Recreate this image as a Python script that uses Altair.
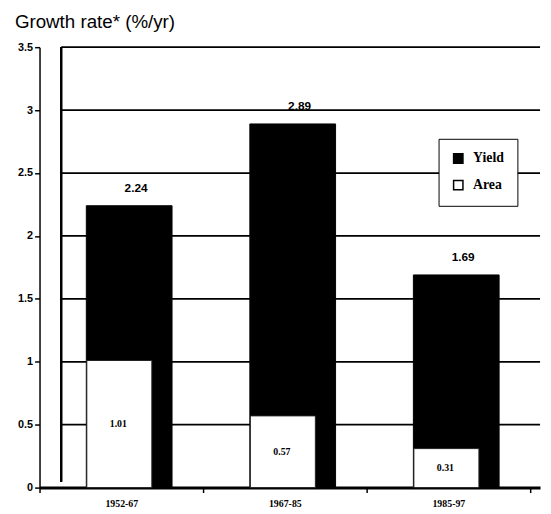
import altair as alt
import pandas as pd

periods = ["1952-67", "1967-85", "1985-97"]
yield_total = [2.24, 2.89, 1.69]
area_part = [1.01, 0.57, 0.31]
grid_values = [0.5, 1.0, 1.5, 2.0, 2.5, 3.0, 3.5]

df = pd.DataFrame({
    "period": periods * 2,
    "series": ["Yield"] * 3 + ["Area"] * 3,
    "value": yield_total + area_part,
})
df["label"] = df["value"].map(lambda v: f"{v:.2f}")
df["mid"] = df["value"] / 2

grid_df = pd.DataFrame({"g": grid_values})

W, H = 508, 447

xscale = alt.Scale(domain=periods, paddingInner=0, paddingOuter=0.0303, align=0)
yscale = alt.Scale(domain=[0, 3.5], nice=False)
yaxis = alt.Axis(title=None, values=[0, 0.5, 1, 1.5, 2, 2.5, 3, 3.5], format="~g",
                 labelFont="Liberation Sans", labelFontWeight="bold",
                 labelFontSize=11, labelColor="black", labelPadding=2,
                 domainColor="black", domainWidth=1.5, tickColor="black",
                 tickWidth=1.5, tickSize=5, grid=False)
xaxis = alt.Axis(title=None, labelAngle=0, tickBand="extent",
                 labelFont="Liberation Serif", labelFontWeight="bold",
                 labelFontSize=10, labelColor="black", labelPadding=6,
                 domainColor="black", domainWidth=3, tickColor="black",
                 tickWidth=1.5, tickSize=5)
color = alt.Color(
    "series:N",
    scale=alt.Scale(domain=["Yield", "Area"], range=["#000000", "#ffffff"]),
    legend=alt.Legend(
        title=None, orient="none", legendX=405, legendY=93,
        symbolType="square", symbolSize=90, symbolStrokeColor="black",
        symbolStrokeWidth=1.5, labelFont="Liberation Serif", labelFontWeight="bold",
        labelFontSize=14, labelColor="black", rowPadding=11, padding=13,
        strokeColor="black", fillColor="white", labelOffset=8,
    ),
)

base = alt.Chart(df)

grid = alt.Chart(grid_df).mark_rule(color="black", strokeWidth=1.8).encode(
    y=alt.Y("g:Q", scale=yscale, axis=yaxis),
    x=alt.value(22), x2=alt.value(W),
)

backwall = alt.Chart(grid_df).mark_rule(color="black", strokeWidth=1.8).encode(
    x=alt.value(22), y=alt.value(0), y2=alt.value(H - 6),
)

yield_bars = base.transform_filter(alt.datum.series == "Yield").mark_bar(
    size=87, xOffset=8, stroke="black"
).encode(
    x=alt.X("period:N", scale=xscale, sort=periods, axis=xaxis),
    y=alt.Y("value:Q", scale=yscale, axis=yaxis),
    color=color,
)

area_bars = base.transform_filter(alt.datum.series == "Area").mark_bar(
    size=66, xOffset=-2, stroke="#222", strokeWidth=1
).encode(
    x=alt.X("period:N", scale=xscale, sort=periods, axis=xaxis),
    y=alt.Y("value:Q", scale=yscale, axis=yaxis),
    color=color,
)

total_text = base.transform_filter(alt.datum.series == "Yield").mark_text(
    dx=15, dy=-11, baseline="bottom", font="Liberation Sans", fontWeight="bold",
    fontSize=12, color="black"
).encode(
    x=alt.X("period:N", scale=xscale, sort=periods, axis=xaxis),
    y=alt.Y("value:Q", scale=yscale, axis=yaxis),
    text="label:N",
)

area_text = base.transform_filter(alt.datum.series == "Area").mark_text(
    dx=-3, baseline="middle", font="Liberation Serif", fontWeight="bold",
    fontSize=10, color="black"
).encode(
    x=alt.X("period:N", scale=xscale, sort=periods, axis=xaxis),
    y=alt.Y("mid:Q", scale=yscale, axis=yaxis),
    text="label:N",
)

title_text = alt.Chart(pd.DataFrame({"t": ["Growth rate* (%/yr)"]})).mark_text(
    align="left", baseline="alphabetic", font="Liberation Sans", fontSize=19,
    color="black"
).encode(x=alt.value(-25), y=alt.value(-19), text="t:N")

chart = alt.layer(
    grid, backwall, yield_bars, area_bars, total_text, area_text, title_text
).properties(
    width=W, height=H,
    autosize=alt.AutoSizeParams(type="none"),
    padding={"left": 32, "top": 36, "right": 3, "bottom": 22},
    background="white",
).configure_view(strokeWidth=0)

chart.save("out.html", embed_options={"renderer": "svg", "actions": False})
